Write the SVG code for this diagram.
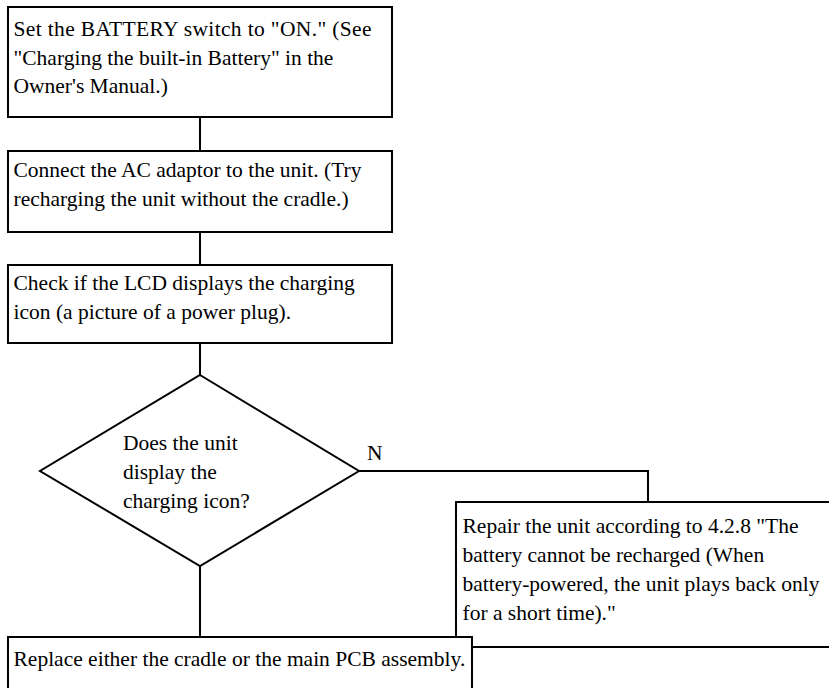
<svg xmlns="http://www.w3.org/2000/svg" width="829" height="688" viewBox="0 0 829 688">
<style>
.box{fill:#fff;stroke:#000;stroke-width:2}
.ln{fill:none;stroke:#000;stroke-width:2}
.t{font-family:'Liberation Serif','Times New Roman',serif;font-size:21.5px;fill:#000}
</style>
<rect width="829" height="688" fill="#fff"/>
<g id="connectors">
<line class="ln" x1="200" y1="117" x2="200" y2="151"/>
<line class="ln" x1="200" y1="232" x2="200" y2="265"/>
<line class="ln" x1="200" y1="343" x2="200" y2="375"/>
<line class="ln" x1="200" y1="566" x2="200" y2="637"/>
<polyline class="ln" points="359,471 648,471 648,502"/>
<text class="t" x="367" y="460">N</text>
</g>
<g id="n1">
<rect class="box" x="8" y="7" width="384" height="110"/>
<text class="t" x="13.5" y="36" textLength="358" lengthAdjust="spacing">Set the BATTERY switch to "ON." (See</text>
<text class="t" x="13.5" y="65">"Charging the built-in Battery" in the</text>
<text class="t" x="13.5" y="93">Owner's Manual.)</text>
</g>
<g id="n2">
<rect class="box" x="8" y="151" width="384" height="81"/>
<text class="t" x="13.5" y="177">Connect the AC adaptor to the unit. (Try</text>
<text class="t" x="13.5" y="206">recharging the unit without the cradle.)</text>
</g>
<g id="n3">
<rect class="box" x="8" y="265" width="384" height="78"/>
<text class="t" x="13.5" y="290">Check if the LCD displays the charging</text>
<text class="t" x="13.5" y="319">icon (a picture of a power plug).</text>
</g>
<g id="n4">
<polygon class="box" points="200,375 359,471 200,566 40,471"/>
<text class="t" x="123" y="450">Does the unit</text>
<text class="t" x="123" y="479">display the</text>
<text class="t" x="123" y="508">charging icon?</text>
</g>
<g id="n5">
<rect class="box" x="456" y="502" width="390" height="145"/>
<text class="t" x="462.5" y="533">Repair the unit according to 4.2.8 "The</text>
<text class="t" x="462.5" y="562">battery cannot be recharged (When</text>
<text class="t" x="462.5" y="591">battery-powered, the unit plays back only</text>
<text class="t" x="462.5" y="620">for a short time)."</text>
</g>
<g id="n6">
<rect class="box" x="8" y="637" width="464" height="70"/>
<text class="t" x="13.5" y="666">Replace either the cradle or the main PCB assembly.</text>
</g>
</svg>
